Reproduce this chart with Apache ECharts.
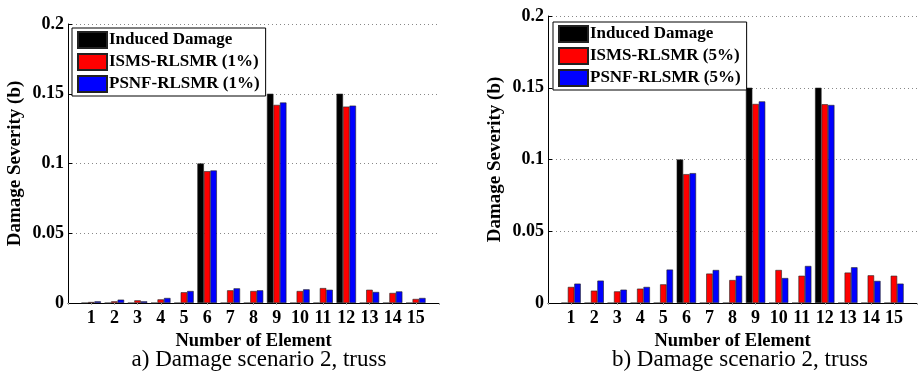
<!DOCTYPE html>
<html>
<head>
<meta charset="utf-8">
<script src="https://cdn.jsdelivr.net/npm/echarts@6/dist/echarts.min.js"></script>
<style>
  html, body { margin: 0; padding: 0; background: #fff; }
  #chart { width: 920px; height: 372px; }
</style>
</head>
<body>
<div id="chart"></div>
<script>
var chart = echarts.init(document.getElementById('chart'));

// element numbers on the x axis
var elements = ['1', '2', '3', '4', '5', '6', '7', '8', '9', '10', '11', '12', '13', '14', '15'];

// a) 1% noise
var inducedA = [0, 0, 0, 0, 0, 0.1, 0, 0, 0.15, 0, 0, 0.15, 0, 0, 0];
var ismsA = [0.0007, 0.0012, 0.0019, 0.0026, 0.0077, 0.0945, 0.0091, 0.0086, 0.142, 0.0086, 0.0107, 0.1408, 0.0095, 0.0072, 0.0029];
var psnfA = [0.0012, 0.0024, 0.0012, 0.0036, 0.0086, 0.095, 0.0105, 0.0091, 0.1437, 0.0098, 0.0095, 0.1415, 0.0079, 0.0083, 0.0036];

// b) 5% noise
var inducedB = [0, 0, 0, 0, 0, 0.1, 0, 0, 0.15, 0, 0, 0.15, 0, 0, 0];
var ismsB = [0.0112, 0.0086, 0.0081, 0.0100, 0.0130, 0.0898, 0.0205, 0.0160, 0.1387, 0.0230, 0.0190, 0.1385, 0.0212, 0.0193, 0.0190];
var psnfB = [0.0135, 0.0156, 0.0093, 0.0112, 0.0233, 0.0905, 0.0230, 0.0190, 0.1405, 0.0174, 0.0258, 0.1380, 0.0249, 0.0154, 0.0135];

var serif = '"Liberation Serif", "Times New Roman", serif';

// pad with empty slots so the axis runs from 0 to 16
function pad(arr) {
    return [null].concat(arr, [null]);
}
var padCats = [''].concat(elements, ['']);

function xAxisFor(idx) {
    return {
        type: 'category',
        gridIndex: idx,
        data: padCats,
        boundaryGap: false,
        name: 'Number of Element',
        nameLocation: 'middle',
        nameGap: 21,
        nameTextStyle: { fontFamily: serif, fontWeight: 'bold', fontSize: 18.5, color: '#000' },
        axisLine: { lineStyle: { color: '#000', width: 1 } },
        axisTick: { show: true, inside: false, length: 2, lineStyle: { color: '#aaa' } },
        axisLabel: { interval: 0, margin: 6, fontFamily: serif, fontWeight: 'bold', fontSize: 18, color: '#000' },
        splitLine: { show: false }
    };
}
function yAxisFor(idx) {
    return {
        type: 'value',
        gridIndex: idx,
        min: 0,
        max: 0.2,
        interval: 0.05,
        name: 'Damage Severity (b)',
        nameLocation: 'middle',
        nameGap: 43,
        nameTextStyle: { fontFamily: serif, fontWeight: 'bold', fontSize: 19, color: '#000' },
        axisLine: { show: true, lineStyle: { color: '#000', width: 1 } },
        axisTick: { show: true, inside: true, length: 4, lineStyle: { color: '#000' } },
        axisLabel: { margin: 4, fontFamily: serif, fontWeight: 'bold', fontSize: 18, color: '#000' },
        splitLine: { show: true, lineStyle: { color: '#888', type: [1, 3], width: 1 } }
    };
}

function barSeries(name, data, color, idx) {
    return {
        name: name,
        type: 'bar',
        xAxisIndex: idx,
        yAxisIndex: idx,
        data: pad(data),
        barWidth: '28%',
        barGap: '0%',
        itemStyle: { color: color, borderColor: '#222', borderWidth: 0.6 },
        emphasis: { disabled: true }
    };
}

function legendFor(names, left, top) {
    return {
        orient: 'vertical',
        left: left,
        top: top,
        data: names,
        icon: 'rect',
        itemWidth: 29,
        itemHeight: 16,
        itemGap: 4,
        padding: [3, 6, 3, 5],
        backgroundColor: '#fff',
        borderColor: '#000',
        borderWidth: 1,
        selectedMode: false,
        textStyle: { fontFamily: serif, fontWeight: 'bold', fontSize: 17, color: '#000', padding: [0, 0, 0, -3] }
    };
}

var namesA = ['Induced Damage', 'ISMS-RLSMR (1%)', 'PSNF-RLSMR (1%)'];
var namesB = ['Induced Damage ', 'ISMS-RLSMR (5%)', 'PSNF-RLSMR (5%)'];

var option = {
    animation: false,
    grid: [
        { left: 68, right: 481, top: 24, bottom: 69, containLabel: false },
        { left: 548, right: -12, top: 16, bottom: 69, containLabel: false }
    ],
    xAxis: [xAxisFor(0), xAxisFor(1)],
    yAxis: [yAxisFor(0), yAxisFor(1)],
    legend: [legendFor(namesA, 72, 28), legendFor(namesB, 553, 22)],
    title: [
        { text: 'a) Damage scenario 2, truss', left: 254, top: 343, textAlign: 'center',
          textStyle: { fontFamily: serif, fontWeight: 'normal', fontSize: 23, color: '#000' } },
        { text: 'b) Damage scenario 2, truss', left: 735, top: 343, textAlign: 'center',
          textStyle: { fontFamily: serif, fontWeight: 'normal', fontSize: 23, color: '#000' } }
    ],
    series: [
        barSeries(namesA[0], inducedA, '#000000', 0),
        barSeries(namesA[1], ismsA, '#ff0000', 0),
        barSeries(namesA[2], psnfA, '#0000ff', 0),
        barSeries(namesB[0], inducedB, '#000000', 1),
        barSeries(namesB[1], ismsB, '#ff0000', 1),
        barSeries(namesB[2], psnfB, '#0000ff', 1)
    ]
};
chart.setOption(option);
</script>
</body>
</html>
